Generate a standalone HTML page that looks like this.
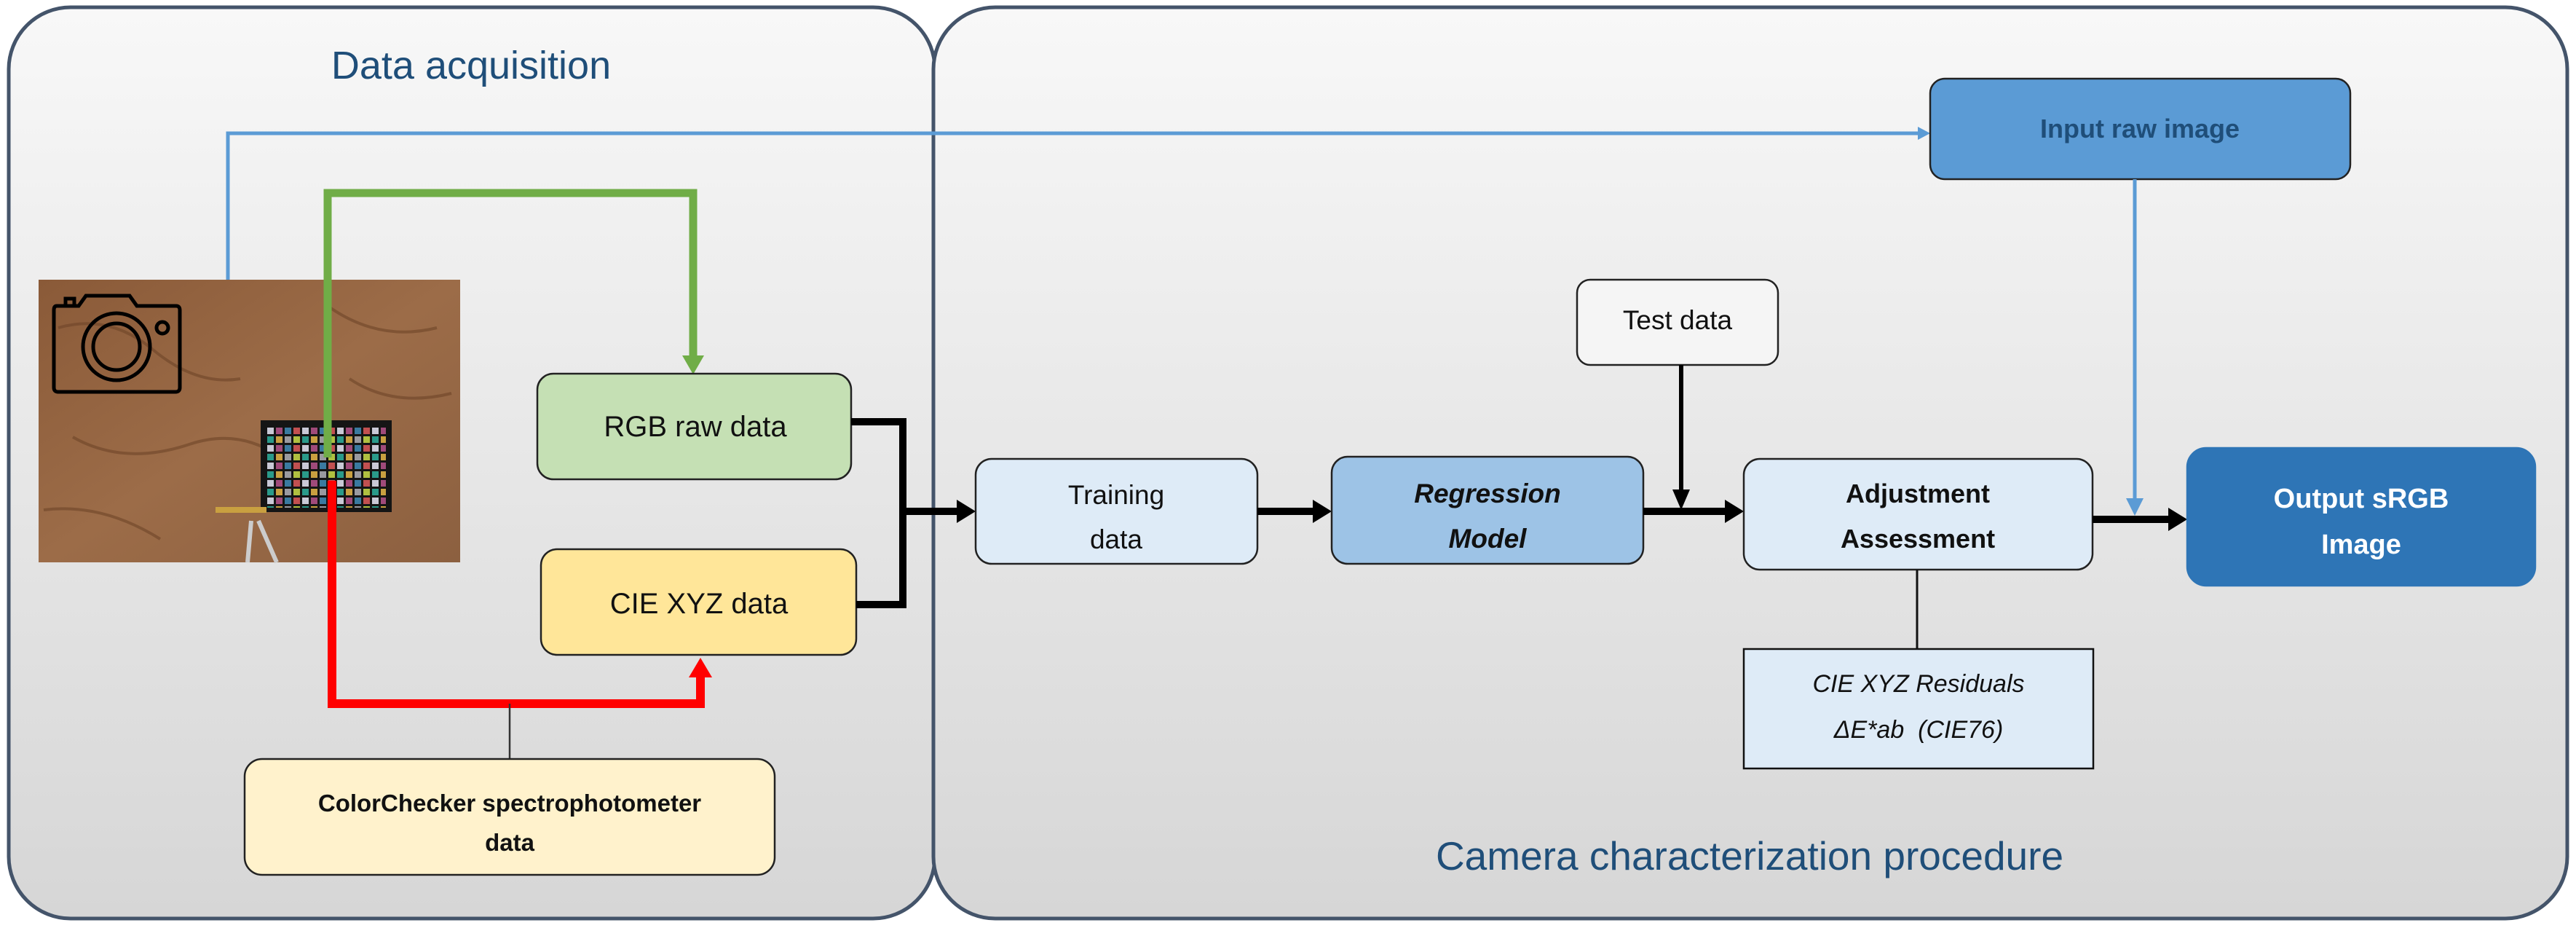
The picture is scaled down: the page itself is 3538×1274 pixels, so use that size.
<!DOCTYPE html>
<html><head><meta charset="utf-8"><style>
html,body{margin:0;padding:0;background:#fff;}
svg{display:block;}
text{font-family:"Liberation Sans",sans-serif;}
</style></head><body>
<svg width="3538" height="1274" viewBox="0 0 3538 1274" xmlns="http://www.w3.org/2000/svg">
<defs>
<linearGradient id="pg" x1="0" y1="0" x2="0" y2="1">
<stop offset="0" stop-color="#f8f8f8"/><stop offset="1" stop-color="#d6d6d6"/>
</linearGradient>
<linearGradient id="rock" x1="0" y1="0" x2="1" y2="1">
<stop offset="0" stop-color="#8a5a38"/><stop offset="0.5" stop-color="#9c6c48"/><stop offset="1" stop-color="#8c6040"/>
</linearGradient>
<pattern id="chk" x="366" y="585" width="48" height="24" patternUnits="userSpaceOnUse">
<rect width="48" height="24" fill="#151515"/>
<rect x="1" y="2" width="9" height="9" fill="#c9c9d6"/>
<rect x="13" y="2" width="9" height="9" fill="#a04a7a"/>
<rect x="25" y="2" width="9" height="9" fill="#3a7aa0"/>
<rect x="37" y="2" width="9" height="9" fill="#c25050"/>
<rect x="1" y="14" width="9" height="9" fill="#2a9a8a"/>
<rect x="13" y="14" width="9" height="9" fill="#c9a040"/>
<rect x="25" y="14" width="9" height="9" fill="#9a9aa0"/>
<rect x="37" y="14" width="9" height="9" fill="#b0c040"/>
</pattern>
</defs>

<!-- panels -->
<rect x="12" y="10" width="1272" height="1251" rx="85" fill="url(#pg)" stroke="#44546a" stroke-width="5"/>
<rect x="1282" y="10" width="2244" height="1251" rx="85" fill="url(#pg)" stroke="#44546a" stroke-width="5"/>

<text x="647" y="108" font-size="54" fill="#1f4e79" text-anchor="middle">Data acquisition</text>
<text x="2403" y="1194" font-size="55" fill="#1f4e79" text-anchor="middle">Camera characterization procedure</text>

<!-- photo -->
<rect x="53" y="384" width="579" height="388" fill="url(#rock)"/>
<path d="M80 450 Q150 430 210 480 T330 520 M100 600 Q170 640 260 610 T420 660 M60 700 Q140 690 220 740 M450 420 Q520 470 600 450 M480 520 Q540 560 620 540" stroke="#6e4428" stroke-width="4" fill="none" opacity="0.6"/>
<rect x="358" y="577" width="180" height="126" fill="#151515"/>
<rect x="366" y="585" width="164" height="112" fill="url(#chk)"/>
<rect x="296" y="696" width="70" height="8" fill="#c9a040"/>
<line x1="345" y1="715" x2="340" y2="772" stroke="#ccc" stroke-width="6"/>
<line x1="355" y1="715" x2="380" y2="772" stroke="#ccc" stroke-width="6"/>
<!-- camera icon -->
<g fill="none" stroke="#000" stroke-width="5">
<path d="M78 420 L108 420 L118 406 L178 406 L188 420 L242 420 Q247 420 247 426 L247 532 Q247 538 241 538 L80 538 Q74 538 74 532 L74 426 Q74 420 78 420 Z"/>
<circle cx="160" cy="476" r="46"/>
<circle cx="160" cy="476" r="32"/>
<circle cx="223" cy="450" r="8"/>
<rect x="90" y="410" width="12" height="10"/>
</g>

<!-- blue line camera -> input raw image -->
<polyline points="313,384 313,183 2640,183" fill="none" stroke="#5b9bd5" stroke-width="5"/>
<polygon points="2651,183 2634,174 2634,192" fill="#5b9bd5"/>

<!-- green line -->
<polyline points="450,628 450,265 952,265 952,495" fill="none" stroke="#70ad47" stroke-width="11"/>
<polygon points="952,514 937,488 967,488" fill="#70ad47"/>

<!-- red line -->
<polyline points="456,660 456,966 962,966 962,925" fill="none" stroke="#ff0000" stroke-width="12"/>
<polygon points="962,903 946,930 978,930" fill="#ff0000"/>

<!-- thin line to colorchecker -->
<line x1="700" y1="966" x2="700" y2="1042" stroke="#333" stroke-width="2.5"/>

<!-- RGB raw data -->
<rect x="738" y="513" width="431" height="145" rx="22" fill="#c5e0b4" stroke="#222" stroke-width="2.5"/>
<text x="955" y="599" font-size="40" fill="#111" text-anchor="middle">RGB raw data</text>
<!-- CIE XYZ data -->
<rect x="743" y="754" width="433" height="145" rx="22" fill="#ffe699" stroke="#222" stroke-width="2.5"/>
<text x="960" y="842" font-size="40" fill="#111" text-anchor="middle">CIE XYZ data</text>
<!-- ColorChecker -->
<rect x="336" y="1042" width="728" height="159" rx="24" fill="#fff2cc" stroke="#222" stroke-width="2.5"/>
<text x="700" y="1114" font-size="33" font-weight="bold" fill="#111" text-anchor="middle">ColorChecker spectrophotometer</text>
<text x="700" y="1168" font-size="33" font-weight="bold" fill="#111" text-anchor="middle">data</text>

<!-- black connector -->
<polyline points="1169,579 1240,579 1240,830 1176,830" fill="none" stroke="#000" stroke-width="10"/>
<line x1="1240" y1="702" x2="1320" y2="702" stroke="#000" stroke-width="10"/>
<polygon points="1340,702 1314,686 1314,718" fill="#000"/>

<!-- Training data -->
<rect x="1340" y="630" width="387" height="144" rx="22" fill="#deebf7" stroke="#222" stroke-width="2.5"/>
<text x="1533" y="692" font-size="37" fill="#111" text-anchor="middle">Training</text>
<text x="1533" y="753" font-size="37" fill="#111" text-anchor="middle">data</text>
<line x1="1727" y1="702" x2="1810" y2="702" stroke="#000" stroke-width="10"/>
<polygon points="1829,702 1803,686 1803,718" fill="#000"/>

<!-- Regression Model -->
<rect x="1829" y="627" width="428" height="147" rx="22" fill="#9dc3e6" stroke="#222" stroke-width="2.5"/>
<text x="2043" y="690" font-size="37" font-weight="bold" font-style="italic" fill="#111" text-anchor="middle">Regression</text>
<text x="2043" y="752" font-size="37" font-weight="bold" font-style="italic" fill="#111" text-anchor="middle">Model</text>
<line x1="2257" y1="702" x2="2375" y2="702" stroke="#000" stroke-width="10"/>
<polygon points="2395,702 2369,686 2369,718" fill="#000"/>

<!-- Test data -->
<rect x="2166" y="384" width="276" height="117" rx="18" fill="#f5f5f5" stroke="#222" stroke-width="2.5"/>
<text x="2304" y="452" font-size="37" fill="#111" text-anchor="middle">Test data</text>
<line x1="2309" y1="501" x2="2309" y2="680" stroke="#000" stroke-width="6"/>
<polygon points="2309,700 2297,672 2321,672" fill="#000"/>

<!-- Adjustment Assessment -->
<rect x="2395" y="630" width="479" height="152" rx="22" fill="#deebf7" stroke="#222" stroke-width="2.5"/>
<text x="2634" y="690" font-size="36" font-weight="bold" fill="#111" text-anchor="middle">Adjustment</text>
<text x="2634" y="752" font-size="36" font-weight="bold" fill="#111" text-anchor="middle">Assessment</text>
<line x1="2633" y1="782" x2="2633" y2="891" stroke="#111" stroke-width="3"/>

<!-- Residuals -->
<rect x="2395" y="891" width="480" height="164" fill="#deebf7" stroke="#111" stroke-width="2.5"/>
<text x="2635" y="950" font-size="34" font-style="italic" fill="#111" text-anchor="middle">CIE XYZ Residuals</text>
<text x="2635" y="1013" font-size="34" font-style="italic" fill="#111" text-anchor="middle" xml:space="preserve">ΔE*ab  (CIE76)</text>

<!-- Input raw image -->
<rect x="2651" y="108" width="577" height="138" rx="20" fill="#5b9bd5" stroke="#222" stroke-width="2.5"/>
<text x="2939" y="189" font-size="36" font-weight="bold" fill="#1f4e79" text-anchor="middle">Input raw image</text>
<line x1="2932" y1="246" x2="2932" y2="690" stroke="#5b9bd5" stroke-width="5"/>
<polygon points="2932,708 2920,684 2944,684" fill="#5b9bd5"/>

<!-- adjustment -> output -->
<line x1="2874" y1="713" x2="2984" y2="713" stroke="#000" stroke-width="10"/>
<polygon points="3004,713 2978,697 2978,729" fill="#000"/>

<!-- Output sRGB -->
<rect x="3004" y="615" width="478" height="189" rx="26" fill="#2e75b6" stroke="#2e75b6" stroke-width="2.5"/>
<text x="3243" y="697" font-size="38" font-weight="bold" fill="#fff" text-anchor="middle">Output sRGB</text>
<text x="3243" y="760" font-size="38" font-weight="bold" fill="#fff" text-anchor="middle">Image</text>
</svg>
</body></html>
